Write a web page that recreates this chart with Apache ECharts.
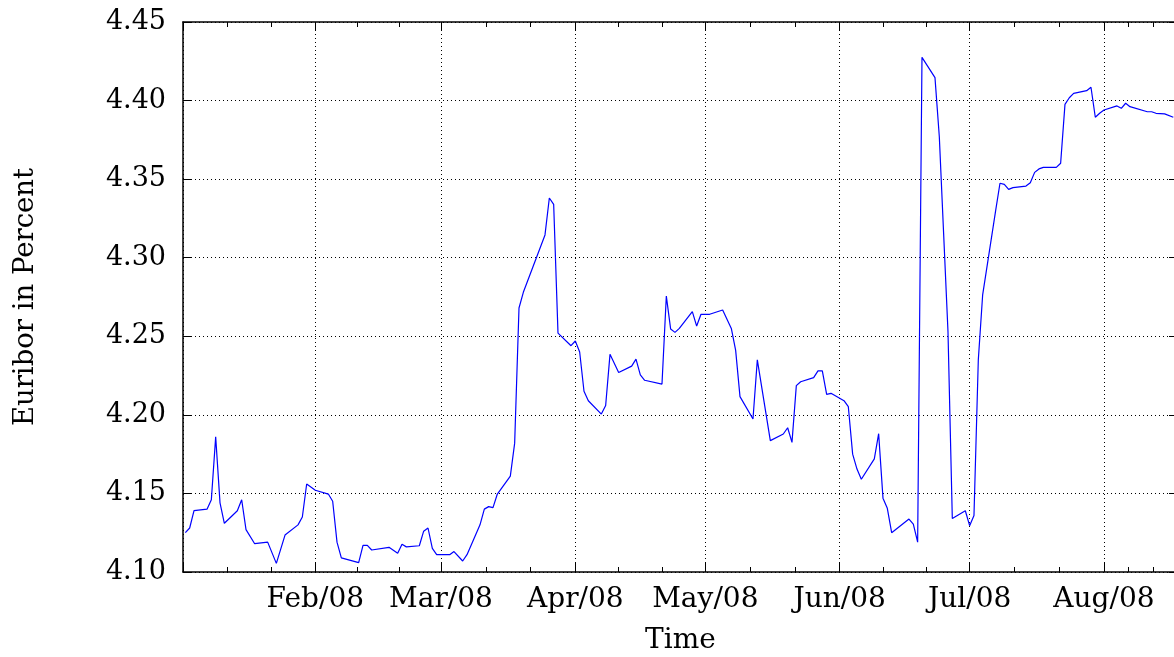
<!DOCTYPE html>
<html>
<head>
<meta charset="utf-8" />
<title>Euribor 2008</title>
<script src="https://cdn.jsdelivr.net/npm/echarts@6/dist/echarts.min.js"></script>
<style>
  html, body { margin: 0; padding: 0; background: #fff; }
  #main { width: 1174px; height: 657px; }
</style>
</head>
<body>
<div id="main"></div>
<script>
// daily fixings
var dates = [
  '2008-01-02','2008-01-03','2008-01-04','2008-01-07','2008-01-08','2008-01-09','2008-01-10','2008-01-11',
  '2008-01-14','2008-01-15','2008-01-16','2008-01-18','2008-01-21','2008-01-23','2008-01-25','2008-01-28',
  '2008-01-29','2008-01-30','2008-02-01','2008-02-04','2008-02-05','2008-02-06','2008-02-07','2008-02-11',
  '2008-02-12','2008-02-13','2008-02-14','2008-02-18','2008-02-20','2008-02-21','2008-02-22','2008-02-25',
  '2008-02-26','2008-02-27','2008-02-28','2008-02-29','2008-03-03','2008-03-04','2008-03-06','2008-03-07',
  '2008-03-10','2008-03-11','2008-03-12','2008-03-13','2008-03-14','2008-03-17','2008-03-18','2008-03-19',
  '2008-03-20','2008-03-25','2008-03-26','2008-03-27','2008-03-28','2008-03-31','2008-04-01','2008-04-02',
  '2008-04-03','2008-04-04','2008-04-07','2008-04-08','2008-04-09','2008-04-11','2008-04-14','2008-04-15',
  '2008-04-16','2008-04-17','2008-04-21','2008-04-22','2008-04-23','2008-04-24','2008-04-25','2008-04-28',
  '2008-04-29','2008-04-30','2008-05-02','2008-05-05','2008-05-07','2008-05-08','2008-05-09','2008-05-12',
  '2008-05-13','2008-05-16','2008-05-19','2008-05-20','2008-05-21','2008-05-22','2008-05-23','2008-05-26',
  '2008-05-27','2008-05-28','2008-05-29','2008-05-30','2008-06-02','2008-06-03','2008-06-04','2008-06-05',
  '2008-06-06','2008-06-09','2008-06-10','2008-06-11','2008-06-12','2008-06-13','2008-06-17','2008-06-18',
  '2008-06-19','2008-06-20','2008-06-23','2008-06-24','2008-06-25','2008-06-26','2008-06-27','2008-06-30',
  '2008-07-01','2008-07-02','2008-07-03','2008-07-04','2008-07-07','2008-07-08','2008-07-09','2008-07-10',
  '2008-07-11','2008-07-14','2008-07-15','2008-07-16','2008-07-17','2008-07-18','2008-07-21','2008-07-22',
  '2008-07-23','2008-07-24','2008-07-25','2008-07-28','2008-07-29','2008-07-30','2008-07-31','2008-08-01',
  '2008-08-04','2008-08-05','2008-08-06','2008-08-07','2008-08-11','2008-08-12','2008-08-13','2008-08-15',
  '2008-08-17'
];
var rates = [
  4.125,4.128,4.139,4.140,4.146,4.186,4.144,4.131,
  4.139,4.146,4.127,4.118,4.119,4.1055,4.1235,4.130,
  4.135,4.156,4.152,4.1496,4.145,4.119,4.109,4.106,
  4.117,4.117,4.114,4.1157,4.112,4.1176,4.116,4.1167,
  4.126,4.128,4.115,4.111,4.111,4.113,4.107,4.111,
  4.130,4.140,4.1416,4.141,4.1496,4.161,4.182,4.268,
  4.278,4.3145,4.338,4.334,4.252,4.244,4.247,4.240,
  4.215,4.209,4.2005,4.206,4.2385,4.227,4.231,4.2355,
  4.2254,4.222,4.2196,4.2756,4.2546,4.2525,4.255,4.2657,
  4.2565,4.264,4.264,4.2667,4.255,4.241,4.2116,4.1974,
  4.235,4.1836,4.1878,4.1918,4.1825,4.2186,4.2211,4.2237,
  4.228,4.228,4.213,4.2137,4.209,4.2052,4.175,4.1655,
  4.159,4.172,4.188,4.147,4.1405,4.125,4.1337,4.1305,
  4.119,4.4275,4.4146,4.377,4.315,4.253,4.134,4.139,
  4.1295,4.136,4.235,4.2763,4.330,4.3474,4.3467,4.3435,
  4.3446,4.3456,4.3477,4.3543,4.3565,4.3575,4.3575,4.3601,
  4.3976,4.4018,4.4046,4.4063,4.4085,4.3894,4.3919,4.394,
  4.3966,4.3951,4.3983,4.3961,4.3929,4.3929,4.3919,4.3915,
  4.3894
];
var monthNames = ['Jan','Feb','Mar','Apr','May','Jun','Jul','Aug','Sep','Oct','Nov','Dec'];
var yMin = 4.10, yMax = 4.45, yStep = 0.05;

var font = 'DejaVu Serif';
// x range: the right frame of the original sits just past the picture edge
var xMin = new Date(2008, 0, 1, 11).getTime();
var xMax = new Date(2008, 7, 18, 2).getTime();
var DAY = 86400000;

var points = dates.map(function(d, i) {
  var p = d.split('-');
  return [new Date(+p[0], +p[1] - 1, +p[2]).getTime(), rates[i]];
});

var dotted = { show: true, lineStyle: { color: '#000', width: 1, type: [1, 3] } };

function timeAxis(pos, labels) {
  return {
    type: 'time',
    position: pos,
    min: xMin,
    max: xMax,
    minInterval: 28 * DAY,
    maxInterval: 31 * DAY,
    splitNumber: 8,
    axisLine: { show: true, lineStyle: { color: '#000', width: 1.5 } },
    axisTick: { show: true, inside: true, length: 9, lineStyle: { color: '#000' } },
    minorTick: { show: true, splitNumber: 3, length: 5, lineStyle: { color: '#000' } },
    splitLine: labels ? dotted : { show: false },
    axisLabel: {
      show: labels,
      color: '#000',
      fontFamily: font,
      fontSize: 28,
      margin: 14,
      hideOverlap: false,
      formatter: function(v) {
        var d = new Date(v);
        if (d.getDate() !== 1) return '';
        return monthNames[d.getMonth()] + '/' + String(d.getFullYear()).slice(2);
      }
    },
    name: labels ? 'Time' : '',
    nameLocation: 'middle',
    nameGap: 55,
    nameTextStyle: { color: '#000', fontFamily: font, fontSize: 28 }
  };
}

function valAxis(pos, labels) {
  return {
    type: 'value',
    position: pos,
    min: yMin,
    max: yMax,
    interval: yStep,
    axisLine: { show: true, lineStyle: { color: '#000', width: 1.5 } },
    axisTick: { show: true, inside: true, length: 9, lineStyle: { color: '#000' } },
    splitLine: labels ? dotted : { show: false },
    axisLabel: {
      show: labels,
      color: '#000',
      fontFamily: font,
      fontSize: 27,
      margin: 17,
      formatter: function(v) { return v.toFixed(2); }
    },
    name: labels ? 'Euribor in Percent' : '',
    nameLocation: 'middle',
    nameGap: 143,
    nameTextStyle: { color: '#000', fontFamily: font, fontSize: 27.5 }
  };
}

var chart = echarts.init(document.getElementById('main'));
chart.setOption({
  animation: false,
  backgroundColor: '#fff',
  grid: {
    left: 183, width: 995, top: 22, height: 550,
    containLabel: false,
    outerBoundsMode: 'none'
  },
  xAxis: [timeAxis('bottom', true), timeAxis('top', false)],
  yAxis: [valAxis('left', true), valAxis('right', false)],
  series: [{
    type: 'line',
    data: points,
    showSymbol: false,
    symbol: 'none',
    lineStyle: { color: '#0000ff', width: 1.2 },
    clip: true
  }]
});
</script>
</body>
</html>
